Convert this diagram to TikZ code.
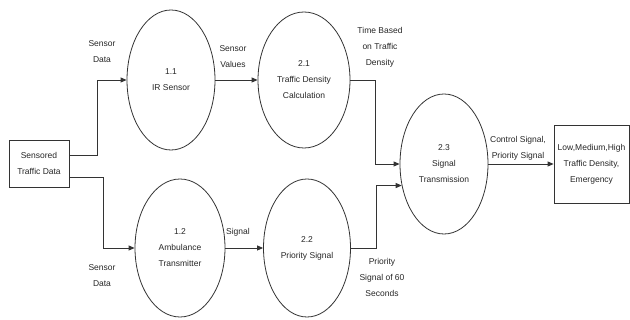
\documentclass[tikz,border=0pt]{standalone}
\usepackage{fontspec}
\setmainfont{Liberation Sans}
\usetikzlibrary{shapes.geometric,arrows.meta}
\begin{document}
\begin{tikzpicture}[x=1pt,y=-1pt,
  every node/.style={font=\fontsize{8.5}{16}\selectfont, text=black!85, align=center, inner sep=0pt},
  proc/.style={draw=black!80, line width=0.8pt, ellipse, minimum width=88pt, minimum height=140pt},
  ent/.style={draw=black!80, line width=0.8pt, rectangle},
  arr/.style={draw=black!80, line width=0.8pt, -{Triangle[length=6pt,width=5pt]}},
  lbl/.style={}]
\useasboundingbox (0,0) rectangle (630,320);
\node[ent, minimum width=60pt, minimum height=47pt] (src) at (39,163.5) {Sensored\\Traffic Data};
\node[proc] (p11) at (171,80) {1.1\\IR Sensor};
\node[proc, minimum width=92pt, minimum height=136pt] (p21) at (304,80) {2.1\\Traffic Density\\Calculation};
\node[proc, minimum width=90pt, minimum height=138pt] (p12) at (180,248) {1.2\\Ambulance\\Transmitter};
\node[proc, minimum width=87pt, minimum height=138pt] (p22) at (307,248) {2.2\\Priority Signal};
\node[proc] (p23) at (444,164) {2.3\\Signal\\Transmission};
\node[ent, minimum width=75pt, minimum height=78pt] (out) at (591.5,164) {Low,Medium,High\\Traffic Density,\\Emergency};

\coordinate (k1) at (97,80);
\coordinate (k2) at (103,248);
\coordinate (k3) at (375,80);
\coordinate (k4) at (376,248);

\draw[arr] ([yshift=8.5pt]src.east) -| (k1) -- (p11);
\draw[arr] ([yshift=-14pt]src.east) -| (k2) -- (p12);
\draw[arr] (p11) -- (p21);
\draw[arr] (p12) -- (p22);
\draw[arr] (p21) -- (k3) |- (p23.west);
\draw[arr] (p22) -- (k4) |- (p23.207);
\draw[arr] (p23) -- (out);

\node[lbl] (l1) at (102,52) {Sensor\\Data};
\node[lbl] (l2) at (233,57) {Sensor\\Values};
\node[lbl] (l3) at (380,47) {Time Based\\on Traffic\\Density};
\node[lbl] (l4) at (238,232) {Signal};
\node[lbl] (l5) at (102,276) {Sensor\\Data};
\node[lbl] (l6) at (382,277) {Priority\\Signal of 60\\Seconds};
\node[lbl] (l7) at (518,148) {Control Signal,\\Priority Signal};
\end{tikzpicture}
\end{document}
